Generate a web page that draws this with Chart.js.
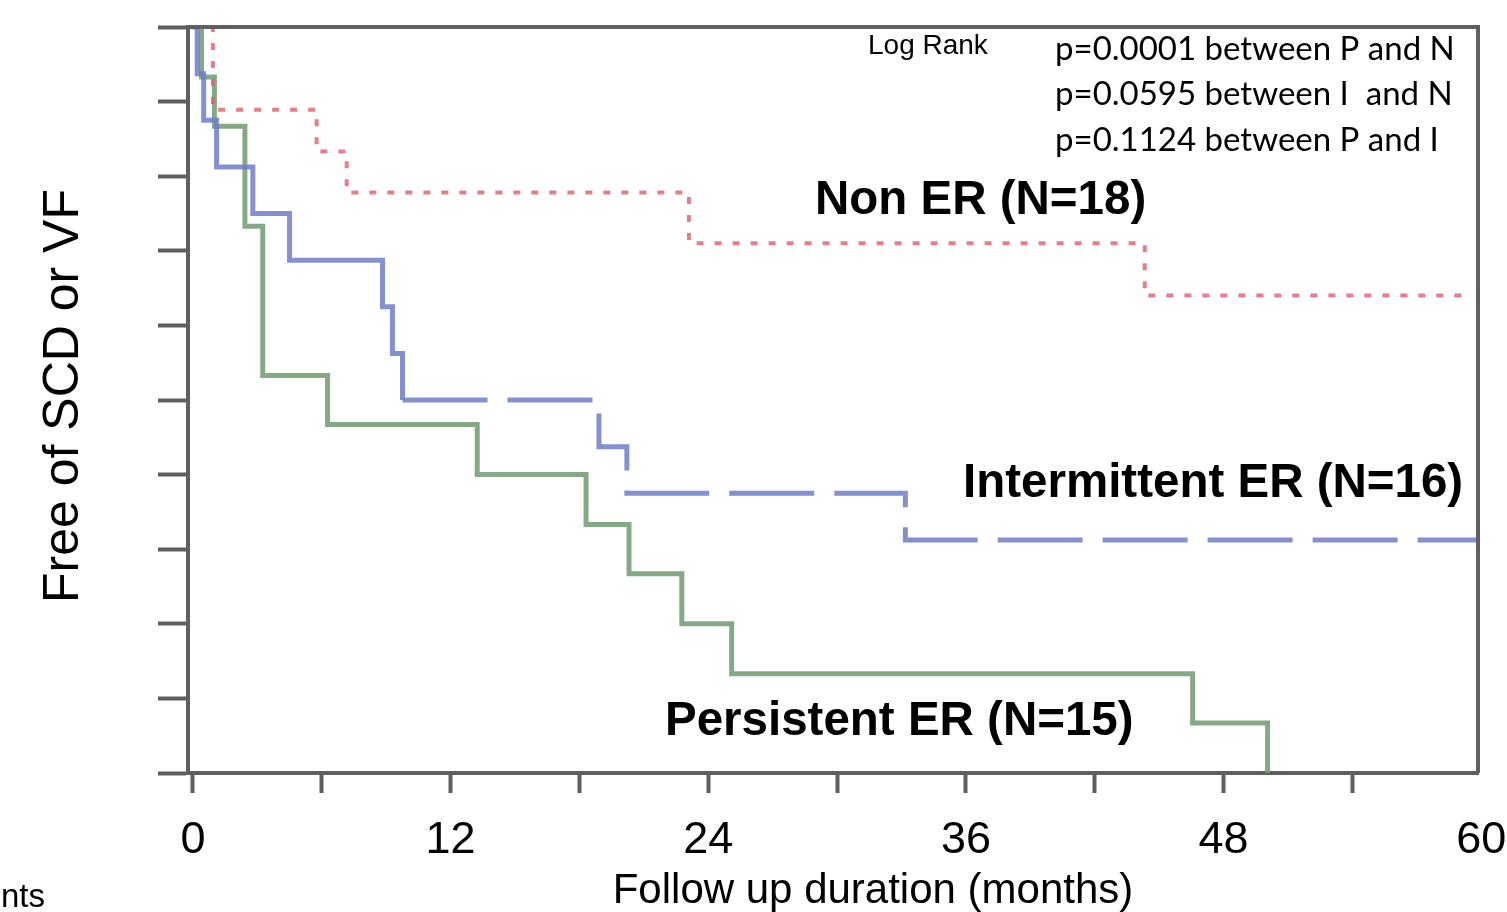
<!DOCTYPE html>
<html>
<head>
<meta charset="utf-8">
<title>Free of SCD or VF</title>
<script src="https://cdn.jsdelivr.net/npm/chart.js@4.4.1/dist/chart.umd.min.js"></script>
<style>
  html, body { margin: 0; padding: 0; background: #fff; }
  #wrap { width: 1507px; height: 912px; }
</style>
</head>
<body>
<div id="wrap"><canvas id="km" width="1507" height="912"></canvas></div>
<script>
// Kaplan-Meier steps: months / fraction free of SCD or VF
var nonErTime = [0, 0.93, 5.76, 7.16, 23.1, 44.33, 59.1];
var nonErSurv = [1, 0.889, 0.833, 0.778, 0.71, 0.64, 0.64];

var intermTime = [0, 0.2, 0.5, 1.1, 2.79, 4.5, 8.83, 9.29, 9.76, 18.91, 20.21, 33.18, 59.85];
var intermSurv = [1, 0.9375, 0.875, 0.8125, 0.75, 0.6875, 0.625, 0.5625, 0.5, 0.4375, 0.375, 0.3125, 0.3125];

var persistTime = [0, 0.4, 1.0, 2.42, 3.25, 6.27, 13.24, 18.31, 20.31, 22.77, 25.09, 46.56, 50.05];
var persistSurv = [1, 0.933, 0.867, 0.733, 0.533, 0.467, 0.4, 0.333, 0.267, 0.2, 0.133, 0.067, 0];

var xTickValues = [0, 6, 12, 18, 24, 30, 36, 42, 48, 54, 60];
var xTickLabels = ['0', '', '12', '', '24', '', '36', '', '48', '', '60'];
var yTickValues = [0, 0.1, 0.2, 0.3, 0.4, 0.5, 0.6, 0.7, 0.8, 0.9, 1];

var groupLabels = ['Non ER (N=18)', 'Intermittent ER (N=16)', 'Persistent ER (N=15)'];
var pValueLines = ['p=0.0001 between P and N', 'p=0.0595 between I  and N', 'p=0.1124 between P and I'];

function toPoints(times, surv) {
    return times.map(function(t, i) { return {x: t, y: surv[i]}; });
}

var FONT = "'Liberation Sans', Arial, sans-serif";
var AXIS_GREY = 'rgb(95,95,95)';

// frame (top/right) and the free text of the figure
var textPlugin = {
    id: 'kmText',
    afterDraw: function(chart) {
        var ctx = chart.ctx;
        var a = chart.chartArea;
        ctx.save();
        ctx.strokeStyle = AXIS_GREY;
        ctx.lineWidth = 4;
        ctx.beginPath();
        ctx.moveTo(a.left, a.top);
        ctx.lineTo(a.right, a.top);
        ctx.lineTo(a.right, a.bottom);
        ctx.stroke();

        ctx.fillStyle = '#000';
        ctx.textBaseline = 'alphabetic';

        ctx.font = 'bold 47.5px ' + FONT;
        ctx.textAlign = 'left';
        ctx.fillText(groupLabels[0], 815, 214);
        ctx.fillText(groupLabels[1], 963, 497);
        ctx.fillText(groupLabels[2], 665, 735);

        ctx.font = '28px ' + FONT;
        ctx.fillText('Log Rank', 868, 54);

        ctx.font = "33px Lato, 'Liberation Sans', sans-serif";
        ctx.fillText(pValueLines[0], 1055, 60);
        ctx.fillText(pValueLines[1], 1055, 105);
        ctx.fillText(pValueLines[2], 1055, 151);

        ctx.font = '42px ' + FONT;
        ctx.textAlign = 'center';
        ctx.fillText('Follow up duration (months)', 873, 903);

        ctx.font = '33px ' + FONT;
        ctx.textAlign = 'left';
        ctx.fillText('nts', 1, 907);

        ctx.translate(78, 396);
        ctx.rotate(-Math.PI / 2);
        ctx.font = '50px ' + FONT;
        ctx.textAlign = 'center';
        ctx.fillText('Free of SCD or VF', 0, 0);
        ctx.restore();
    }
};

var ctx = document.getElementById('km').getContext('2d');
var chart = new Chart(ctx, {
    type: 'line',
    data: {
        datasets: [{
            label: groupLabels[0],
            data: toPoints(nonErTime, nonErSurv),
            borderColor: 'rgba(220,95,110,0.8)',
            borderWidth: 4,
            borderDash: [7, 11],
            stepped: 'before',
            pointRadius: 0
        }, {
            label: groupLabels[1],
            data: toPoints(intermTime, intermSurv),
            borderColor: 'rgba(110,125,200,0.85)',
            borderWidth: 5,
            stepped: 'before',
            pointRadius: 0,
            segment: {
                borderDash: function(c) { return c.p0.parsed.x < 9.5 ? [] : [85, 20]; }
            }
        }, {
            label: groupLabels[2],
            data: toPoints(persistTime, persistSurv),
            borderColor: 'rgba(120,160,120,0.9)',
            borderWidth: 5,
            stepped: 'before',
            pointRadius: 0
        }]
    },
    options: {
        responsive: false,
        animation: false,
        devicePixelRatio: 1,
        layout: { padding: { top: 27, right: 29, left: 0, bottom: 0 } },
        plugins: {
            legend: { display: false },
            tooltip: { enabled: false }
        },
        scales: {
            x: {
                type: 'linear',
                min: -0.23,
                max: 59.85,
                afterFit: function(scale) {
                    scale.height = 139;
                    scale.paddingLeft = 0;
                    scale.paddingRight = 0;
                },
                afterBuildTicks: function(scale) {
                    scale.ticks = xTickValues.map(function(v) { return {value: v}; });
                },
                border: { display: true, color: AXIS_GREY, width: 4 },
                grid: {
                    drawOnChartArea: false,
                    drawTicks: true,
                    tickLength: 20,
                    tickWidth: 4,
                    tickColor: function(c) {
                        return c.tick && c.tick.value > 59.85 ? 'rgba(0,0,0,0)' : AXIS_GREY;
                    }
                },
                ticks: {
                    color: '#000',
                    padding: 21,
                    maxRotation: 0,
                    autoSkip: false,
                    font: { family: FONT, size: 45 },
                    callback: function(value) {
                        var i = xTickValues.indexOf(value);
                        return i >= 0 ? xTickLabels[i] : '';
                    }
                }
            },
            y: {
                min: 0,
                max: 1,
                afterFit: function(scale) {
                    scale.width = 188;
                    scale.paddingTop = 0;
                    scale.paddingBottom = 0;
                },
                afterBuildTicks: function(scale) {
                    scale.ticks = yTickValues.map(function(v) { return {value: v}; });
                },
                border: { display: true, color: AXIS_GREY, width: 4 },
                grid: {
                    drawOnChartArea: false,
                    drawTicks: true,
                    tickLength: 30,
                    tickWidth: 4,
                    tickColor: AXIS_GREY
                },
                ticks: { display: false }
            }
        }
    },
    plugins: [textPlugin]
});
</script>
</body>
</html>
